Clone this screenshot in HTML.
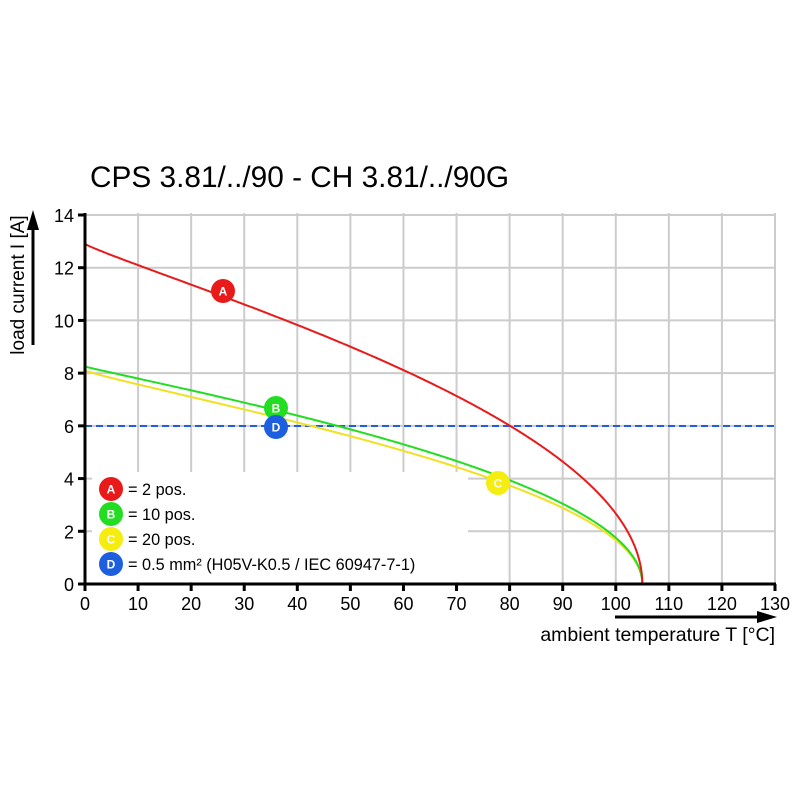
<!DOCTYPE html>
<html><head><meta charset="utf-8"><style>
html,body{margin:0;padding:0;background:#fff;}
svg{display:block;font-family:"Liberation Sans",Arial,sans-serif;}
</style></head><body>
<svg id="s" width="800" height="800" viewBox="0 0 800 800" xmlns="http://www.w3.org/2000/svg">
<rect width="800" height="800" fill="#fff"/>
<text x="90" y="187" font-size="29.8" fill="#000">CPS 3.81/../90 - CH 3.81/../90G</text>
<g id="grid" stroke="#cccccc" stroke-width="2"></g>
<rect x="92" y="472" width="376" height="110" fill="#fff"/>
<line x1="85" y1="426" x2="775" y2="426" stroke="#1e5fe0" stroke-width="2" stroke-dasharray="7,4"/>
<g id="curves" fill="none" stroke-width="2"></g>
<line x1="85" y1="213" x2="85" y2="586" stroke="#000" stroke-width="3"/>
<line x1="83" y1="584" x2="776" y2="584" stroke="#000" stroke-width="3"/>
<g id="ticks" stroke="#000" stroke-width="3"></g>
<g id="labels" font-size="18" fill="#000"></g>
<line x1="33" y1="345" x2="33" y2="228" stroke="#000" stroke-width="3"/>
<polygon points="33,210 27,230 39,230" fill="#000"/>
<text transform="translate(24,285) rotate(-90)" text-anchor="middle" font-size="19">load current I [A]</text>
<line x1="615" y1="617" x2="760" y2="617" stroke="#000" stroke-width="3"/>
<polygon points="777,617 757,611 757,623" fill="#000"/>
<text x="775" y="641" text-anchor="end" font-size="19.5">ambient temperature T [°C]</text>
<g id="marks" font-size="12" font-weight="bold" text-anchor="middle" fill="#fff"></g>
<g font-size="16.3" fill="#000">
<text x="128" y="495">= 2 pos.</text>
<text x="128" y="520">= 10 pos.</text>
<text x="128" y="545">= 20 pos.</text>
<text x="128" y="570">= 0.5 mm² (H05V-K0.5 / IEC 60947-7-1)</text>
</g>
</svg>
<script>
var NS="http://www.w3.org/2000/svg";
function px(t){return 85+t*690/130;} function py(i){return 584-i*369/14;}
function el(p,n,a,txt){var e=document.createElementNS(NS,n);for(var k in a)e.setAttribute(k,a[k]);if(txt!==undefined)e.textContent=txt;document.getElementById(p).appendChild(e);return e;}
for(var t=10;t<=130;t+=10){el('grid','line',{x1:px(t),y1:213,x2:px(t),y2:584});}
for(var i=2;i<=14;i+=2){el('grid','line',{x1:85,y1:py(i),x2:775,y2:py(i)});}
for(var t=0;t<=130;t+=10){el('ticks','line',{x1:px(t),y1:584,x2:px(t),y2:591});el('labels','text',{x:px(t),y:610,'text-anchor':'middle'},String(t));}
for(var i=0;i<=14;i+=2){el('ticks','line',{x1:78,y1:py(i),x2:85,y2:py(i)});el('labels','text',{x:74,y:py(i)+7,'text-anchor':'end'},String(i));}
function curve(i0,k,col){var d='';for(var j=0;j<=300;j++){var t=105*(1-Math.pow(1-j/300,1.6));var v=i0*Math.sqrt(Math.max(0,1-Math.pow(t/105,k)));d+=(j?'L':'M')+px(t).toFixed(2)+','+py(v).toFixed(2);}el('curves','path',{d:d,stroke:col});}
curve(8.1,0.88,'#f0e020');curve(8.25,0.95,'#22dd22');curve(12.9,0.9,'#e81a1a');
function mk(x,y,c,l,tc){el('marks','circle',{cx:x,cy:y,r:12,fill:c});el('marks','text',{x:x,y:y+4.5,fill:tc||'#fff'},l);}
mk(223,291,'#e81a1a','A');mk(276,408,'#22dd22','B');mk(276,427,'#1e5fe0','D');mk(498,483,'#f5ec10','C');
mk(111,489,'#e81a1a','A');mk(111,514,'#22dd22','B');mk(111,539,'#f5ec10','C');mk(111,564,'#1e5fe0','D');
</script>
</body></html>
